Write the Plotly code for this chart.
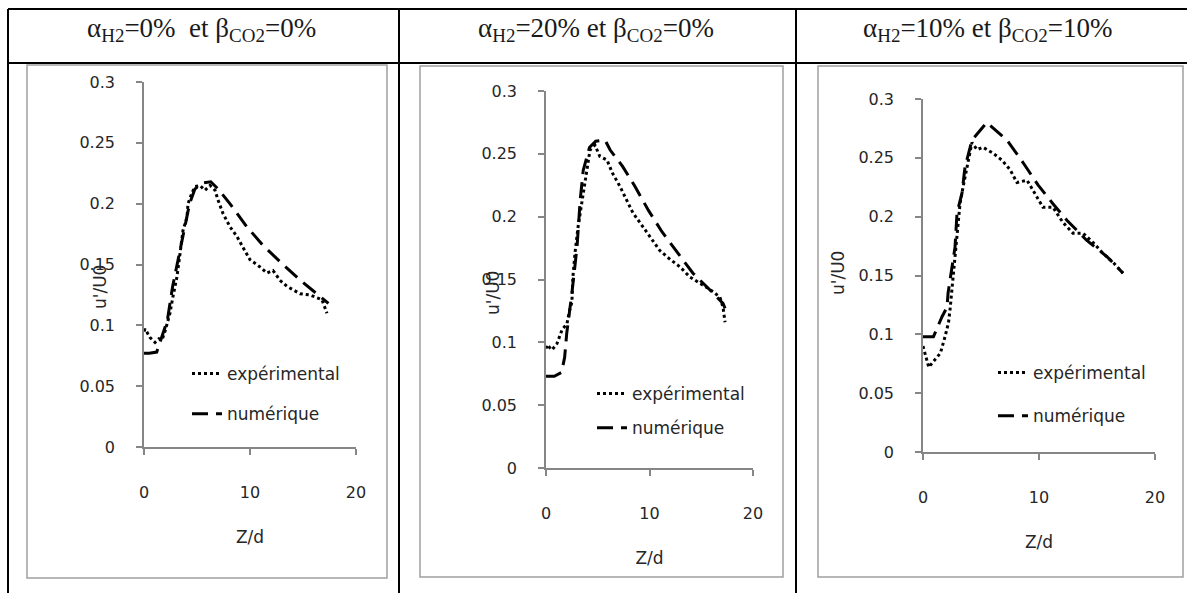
import plotly.graph_objects as go

W, H = 1187, 593

# ---------------- data ----------------
SUB = "<span style='font-size:19px;baseline-shift:-5px'>{}</span>"
titles = [
    "α" + SUB.format("H2") + "=0%  et β" + SUB.format("CO2") + "=0%",
    "α" + SUB.format("H2") + "=20% et β" + SUB.format("CO2") + "=0%",
    "α" + SUB.format("H2") + "=10% et β" + SUB.format("CO2") + "=10%",
]
legend_names = ["expérimental", "numérique"]
x_title = "Z/d"
y_title = "u'/U0"
x_ticks = [0, 10, 20]
y_ticks = [0, 0.05, 0.1, 0.15, 0.2, 0.25, 0.3]
y_ticktext = ["0", "0.05", "0.1", "0.15", "0.2", "0.25", "0.3"]

# panel 1 : aH2=0%, bCO2=0%
z_exp_1 = [0.0, 0.1, 0.57, 1.04, 1.4, 1.7, 1.98, 2.17, 2.45, 2.74, 3.11, 3.4, 3.68, 4.06, 4.15, 4.53,
           4.81, 5.28, 5.75, 6.23, 6.7, 6.98, 7.45, 8.11, 8.77, 9.34, 10.0, 10.94, 11.6, 12.17,
           12.83, 13.49, 14.06, 14.72, 15.66, 16.32, 16.79, 17.26]
u_exp_1 = [0.095, 0.097, 0.090, 0.086, 0.089, 0.088, 0.095, 0.102, 0.110, 0.124, 0.140, 0.159, 0.178, 0.189, 0.200, 0.209,
           0.214, 0.215, 0.211, 0.215, 0.211, 0.203, 0.192, 0.181, 0.173, 0.164, 0.154, 0.148, 0.143, 0.145,
           0.137, 0.132, 0.129, 0.126, 0.125, 0.123, 0.121, 0.110]
z_num_1 = [0.0, 0.5, 1.2, 1.8, 2.2, 2.7, 3.2, 3.7, 4.3, 4.8, 5.5, 6.3, 7.0, 8.1, 9.7, 11.2, 13.1, 14.9, 16.9, 17.4]
u_num_1 = [0.077, 0.077, 0.078, 0.094, 0.104, 0.132, 0.154, 0.176, 0.200, 0.212, 0.217, 0.218, 0.212, 0.200,
           0.181, 0.166, 0.150, 0.136, 0.122, 0.118]

# panel 2 : aH2=20%, bCO2=0%
z_exp_2 = [0.0, 0.1, 0.58, 1.06, 1.55, 2.03, 2.3, 2.5, 2.6, 2.8, 3.1, 3.48, 3.77, 3.96, 4.25, 4.73, 5.2, 5.9,
           6.4, 7.15, 7.83, 8.4, 9.1, 10.05, 11.0, 12.0, 12.95, 13.9, 14.9, 15.85, 16.8, 17.1, 17.3]
u_exp_2 = [0.095, 0.098, 0.094, 0.099, 0.110, 0.115, 0.126, 0.132, 0.152, 0.171, 0.192, 0.213, 0.229, 0.240,
           0.253, 0.257, 0.248, 0.245, 0.235, 0.224, 0.213, 0.203, 0.195, 0.184, 0.173, 0.166, 0.160, 0.152,
           0.147, 0.142, 0.136, 0.128, 0.116]
z_num_2 = [0.0, 0.8, 1.5, 1.8, 2.0, 2.5, 3.0, 3.3, 3.6, 4.2, 4.8, 5.7, 6.2, 7.4, 8.6, 9.9, 11.2, 12.7, 14.2,
           15.8, 17.1, 17.3]
u_num_2 = [0.073, 0.073, 0.076, 0.088, 0.107, 0.139, 0.176, 0.213, 0.237, 0.255, 0.260, 0.261, 0.253, 0.240,
           0.224, 0.205, 0.188, 0.171, 0.155, 0.142, 0.131, 0.127]

# panel 3 : aH2=10%, bCO2=10%
z_exp_3 = [0.0, 0.4, 0.5, 0.9, 1.5, 1.9, 2.2, 2.33, 2.5, 2.76, 3.02, 3.19, 3.45, 3.79, 4.22, 4.66, 5.17, 6.03,
           6.81, 7.5, 8.1, 8.97, 9.66, 10.34, 11.2, 12.07, 12.93, 13.79, 14.66, 15.5, 16.4, 17.24]
u_exp_3 = [0.090, 0.075, 0.072, 0.077, 0.084, 0.098, 0.110, 0.121, 0.140, 0.169, 0.191, 0.211, 0.225, 0.242,
           0.263, 0.257, 0.259, 0.254, 0.248, 0.240, 0.229, 0.231, 0.220, 0.208, 0.208, 0.195, 0.186, 0.186,
           0.178, 0.169, 0.161, 0.152]
z_num_3 = [0.0, 0.9, 1.64, 2.07, 2.16, 2.5, 2.76, 2.93, 3.36, 3.62, 4.22, 5.5, 5.95, 7.24, 8.62, 9.91, 11.2,
           12.4, 14.1, 15.86, 17.24]
u_num_3 = [0.098, 0.098, 0.115, 0.123, 0.135, 0.155, 0.174, 0.203, 0.220, 0.242, 0.265, 0.280, 0.276, 0.265,
           0.246, 0.227, 0.211, 0.197, 0.180, 0.166, 0.152]

series = [
    (z_exp_1, u_exp_1, z_num_1, u_num_1),
    (z_exp_2, u_exp_2, z_num_2, u_num_2),
    (z_exp_3, u_exp_3, z_num_3, u_num_3),
]

# ---------------- layout geometry (pixels) ----------------
def fx(p):
    return p / W

def fy(p):
    return 1 - p / H

panels = [
    dict(ax=(144, 356), ay=(447, 82), box=(27, 65, 387, 578), tcx=201,
         leg=(187, 356, 15), ytl=(100, 287)),
    dict(ax=(546, 753), ay=(468, 91), box=(420, 66, 783, 577), tcx=596,
         leg=(592, 376, 9), ytl=(493, 293)),
    dict(ax=(923, 1155), ay=(452, 99), box=(818, 66, 1183, 577), tcx=987,
         leg=(993, 355, 18), ytl=(838, 273)),
]

TICK_FONT = dict(family="DejaVu Sans", size=16, color="#262626")
LEG_FONT = dict(family="DejaVu Sans", size=17, color="#262626")
AX_COLOR = "#868686"

fig = go.Figure()
shapes = []
annotations = []

for i, (p, (ze, ue, zn, un)) in enumerate(zip(panels, series)):
    n = "" if i == 0 else str(i + 1)
    leg = "legend" + n
    fig.add_trace(go.Scatter(x=ze, y=ue, mode="lines", name=legend_names[0],
                             line=dict(color="black", width=3, dash="3px,3px"),
                             xaxis="x" + n, yaxis="y" + n, legend=leg,
                             legendgroup="e" + n))
    fig.add_trace(go.Scatter(x=zn, y=un, mode="lines", name=legend_names[1],
                             line=dict(color="black", width=3, dash="16px,8px"),
                             xaxis="x" + n, yaxis="y" + n, legend=leg,
                             legendgroup="n" + n))
    x0, x1 = p["ax"]
    yb, yt = p["ay"]
    fig.update_layout(**{
        "xaxis" + n: dict(domain=[fx(x0), fx(x1)], range=[0, 20], tickvals=x_ticks,
                          showline=True, linecolor=AX_COLOR, linewidth=1.5,
                          ticks="outside", ticklen=6, tickcolor=AX_COLOR, tickwidth=1.5,
                          showgrid=False, zeroline=False, tickfont=TICK_FONT,
                          ticklabelstandoff=24, anchor="y" + n, fixedrange=True,
                          automargin=False,
                          title=dict(text=x_title, font=LEG_FONT, standoff=30)),
        "yaxis" + n: dict(domain=[fy(yb), fy(yt)], range=[0, 0.3], tickvals=y_ticks,
                          ticktext=y_ticktext, showline=True, linecolor=AX_COLOR, linewidth=1.5,
                          ticks="outside", ticklen=6, tickcolor=AX_COLOR, tickwidth=1.5,
                          showgrid=False, zeroline=False, tickfont=TICK_FONT,
                          ticklabelstandoff=18, anchor="x" + n, fixedrange=True,
                          automargin=False),
        leg: dict(x=fx(p["leg"][0]), y=fy(p["leg"][1]), xanchor="left", yanchor="top",
                  font=LEG_FONT, bgcolor="rgba(0,0,0,0)", traceorder="grouped",
                  tracegroupgap=p["leg"][2], itemwidth=30),
    })
    bx0, by0, bx1, by1 = p["box"]
    shapes.append(dict(type="rect", xref="paper", yref="paper",
                       x0=fx(bx0), x1=fx(bx1), y0=fy(by1), y1=fy(by0),
                       line=dict(color="#a0a0a0", width=1.5), layer="below"))
    # y axis title (sits in the tick-label column, between two labels)
    annotations.append(dict(text=y_title, xref="paper", yref="paper", textangle=-90,
                            x=fx(p["ytl"][0]), y=fy(p["ytl"][1]), xanchor="center", yanchor="middle",
                            showarrow=False, font=LEG_FONT))
    # header title
    annotations.append(dict(text=titles[i], xref="paper", yref="paper",
                            x=fx(p["tcx"]), y=fy(29), xanchor="center", yanchor="middle",
                            showarrow=False,
                            font=dict(family="Liberation Serif", size=27, color="#1a1a1a")))

# table lines
TL = dict(color="black", width=2)
shapes.append(dict(type="line", xref="paper", yref="paper", x0=fx(8), x1=fx(1187), y0=fy(9), y1=fy(9), line=TL))
shapes.append(dict(type="line", xref="paper", yref="paper", x0=fx(8), x1=fx(1187), y0=fy(63), y1=fy(63), line=TL))
for xv in (8, 399, 796):
    shapes.append(dict(type="line", xref="paper", yref="paper", x0=fx(xv), x1=fx(xv), y0=fy(9), y1=fy(593), line=TL))

fig.update_layout(width=W, height=H, margin=dict(l=0, r=0, t=0, b=0, pad=0, autoexpand=False),
                  paper_bgcolor="white", plot_bgcolor="white",
                  shapes=shapes, annotations=annotations, showlegend=True)

fig.write_html("out.html", config={"displayModeBar": False},
               post_script="document.body.style.margin='0px';")
